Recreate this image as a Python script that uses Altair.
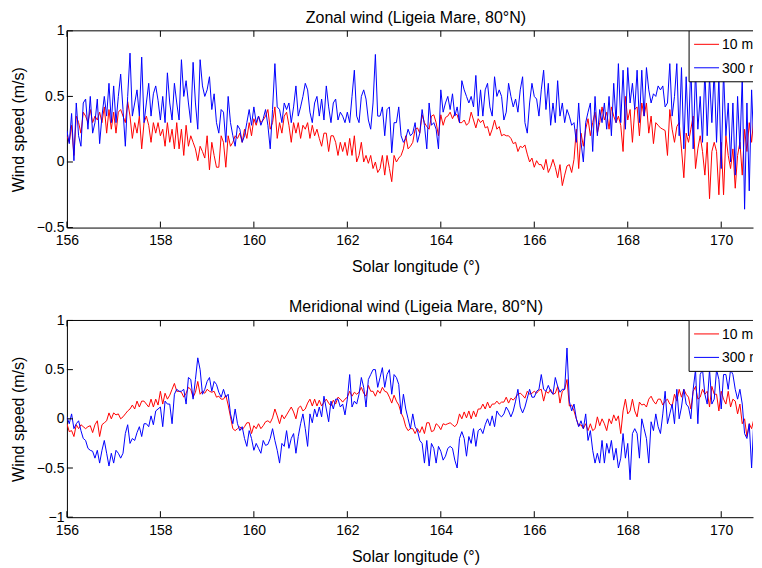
import altair as alt
import pandas as pd

# ---------------- data ----------------
X_START = 156.0      # first sample (solar longitude, deg)
X_STEP = 0.05        # sampling interval (deg)
X_MAX = 170.68       # visible right edge of the axes

x_ticks = [156, 158, 160, 162, 164, 166, 168, 170]
zonal_y_ticks = [-0.5, 0, 0.5, 1]
merid_y_ticks = [-1, -0.5, 0, 0.5, 1]
series_names = ["10 m", "300 m"]
series_colors = ["#ff0000", "#0000ff"]

zonal_300m = [
    0.24, 0.14, 0.37, 0.01, 0.45, 0.20, 0.12, 0.45, 0.48, 0.25,
    0.50, 0.22, 0.30, 0.48, 0.14, 0.35, 0.50, 0.35, 0.60, 0.30,
    0.58, 0.30, 0.50, 0.67, 0.40, 0.12, 0.50, 0.83, 0.35, 0.45,
    0.55, 0.35, 0.80, 0.30, 0.45, 0.60, 0.35, 0.52, 0.58, 0.47,
    0.32, 0.50, 0.30, 0.68, 0.45, 0.32, 0.60, 0.45, 0.32, 0.78,
    0.50, 0.62, 0.45, 0.30, 0.76, 0.45, 0.25, 0.78, 0.58, 0.50,
    0.55, 0.65, 0.40, 0.52, 0.30, 0.22, 0.40, 0.38, 0.15, 0.50,
    0.30, 0.20, 0.12, 0.28, 0.25, 0.15, 0.20, 0.30, 0.40, 0.28,
    0.42, 0.30, 0.35, 0.28, 0.33, 0.40, 0.28, 0.10, 0.40, 0.75,
    0.42, 0.40, 0.30, 0.45, 0.40, 0.45, 0.30, 0.42, 0.58, 0.35,
    0.42, 0.50, 0.60, 0.55, 0.38, 0.30, 0.45, 0.50, 0.35, 0.48,
    0.32, 0.58, 0.42, 0.30, 0.45, 0.48, 0.32, 0.38, 0.35, 0.30,
    0.38, 0.30, 0.50, 0.70, 0.35, 0.30, 0.50, 0.55, 0.48, 0.32,
    0.25, 0.45, 0.82, 0.35, 0.35, 0.42, 0.20, 0.40, 0.42, 0.07,
    0.30, 0.30, 0.42, 0.20, 0.15, 0.18, 0.25, 0.20, 0.22, 0.30,
    0.15, 0.22, 0.40, 0.28, 0.10, 0.45, 0.28, 0.30, 0.25, 0.10,
    0.55, 0.38, 0.45, 0.50, 0.40, 0.52, 0.35, 0.42, 0.30, 0.62,
    0.55, 0.50, 0.45, 0.50, 0.42, 0.66, 0.35, 0.55, 0.35, 0.55,
    0.60, 0.42, 0.35, 0.65, 0.50, 0.55, 0.50, 0.32, 0.38, 0.60,
    0.50, 0.42, 0.48, 0.38, 0.55, 0.65, 0.30, 0.22, 0.45, 0.60,
    0.50, 0.48, 0.35, 0.55, 0.70, 0.40, 0.60, 0.28, 0.45, 0.30,
    0.62, 0.35, 0.45, 0.30, 0.40, 0.35, 0.28, 0.30, 0.15, 0.45,
    0.15, 0.00, 0.30, 0.38, 0.45, 0.08, 0.50, 0.20, 0.40, 0.30,
    0.45, 0.25, 0.50, 0.20, 0.60, 0.30, 0.75, 0.30, 0.70, 0.25,
    0.72, 0.45, 0.60, 0.40, 0.70, 0.30, 0.70, 0.35, 0.72, 0.55,
    0.45, 0.52, 0.50, 0.58, 0.55, 0.58, 0.42, 0.45, 0.75, 0.35,
    0.50, 0.75, 0.20, 0.72, 0.10, 0.65, 0.20, 0.75, 0.10, 0.70,
    0.25, 0.50, 0.15, 0.70, 0.20, 0.65, 0.30, 0.70, 0.15, 0.65,
    -0.05, 0.70, 0.20, 0.45, 0.00, 0.45, -0.10, 0.50, 0.10, 0.65,
    -0.36, 0.45, -0.22, 0.55, 0.10, 0.65, -0.30, 0.60,
]

zonal_10m = [
    0.20, 0.15, 0.28, 0.05, 0.35, 0.30, 0.22, 0.38, 0.35, 0.30,
    0.40, 0.30, 0.35, 0.32, 0.38, 0.30, 0.42, 0.22, 0.40, 0.25,
    0.38, 0.22, 0.38, 0.40, 0.35, 0.30, 0.46, 0.35, 0.18, 0.30,
    0.22, 0.35, 0.10, 0.30, 0.35, 0.28, 0.15, 0.30, 0.22, 0.30,
    0.20, 0.25, 0.12, 0.30, 0.15, 0.25, 0.10, 0.30, 0.10, 0.25,
    0.05, 0.28, 0.12, 0.20, 0.15, 0.10, 0.01, 0.12, 0.08, 0.03,
    0.20, -0.06, 0.15, 0.05, -0.04, -0.04, 0.20, 0.15, -0.04, 0.20,
    0.12, 0.15, 0.20, 0.18, 0.22, 0.15, 0.25, 0.18, 0.30, 0.20,
    0.33, 0.28, 0.35, 0.30, 0.32, 0.35, 0.40, 0.25, 0.30, 0.42,
    0.18, 0.30, 0.22, 0.35, 0.38, 0.28, 0.15, 0.30, 0.22, 0.30,
    0.18, 0.28, 0.25, 0.30, 0.18, 0.28, 0.20, 0.25, 0.18, 0.12,
    0.22, 0.22, 0.08, 0.20, 0.20, 0.15, 0.05, 0.15, 0.08, 0.15,
    0.05, 0.18, 0.05, 0.20, 0.00, 0.05, 0.15, 0.00, 0.05, -0.01,
    0.05, -0.05, 0.00, -0.08, -0.05, 0.05, -0.10, 0.05, -0.05, -0.15,
    0.05, 0.00, 0.03, 0.05, 0.10, 0.20, 0.10, 0.12, 0.15, 0.25,
    0.26, 0.22, 0.36, 0.30, 0.27, 0.25, 0.35, 0.36, 0.30, 0.20,
    0.36, 0.28, 0.34, 0.35, 0.38, 0.33, 0.37, 0.36, 0.30, 0.30,
    0.32, 0.28, 0.30, 0.38, 0.32, 0.26, 0.33, 0.30, 0.32, 0.26,
    0.27, 0.20, 0.25, 0.32, 0.25, 0.27, 0.20, 0.21, 0.20, 0.20,
    0.18, 0.14, 0.15, 0.08, 0.12, 0.11, 0.13, 0.06, 0.00, 0.03,
    -0.04, 0.01, -0.02, -0.02, -0.06, 0.02, -0.08, -0.04, 0.02, -0.04,
    -0.12, -0.02, -0.18, -0.10, -0.03, -0.02, -0.08, 0.02, 0.25, -0.05,
    0.22, 0.12, 0.25, 0.33, 0.20, 0.30, 0.38, 0.22, 0.30, 0.42,
    0.32, 0.38, 0.25, 0.42, 0.35, 0.30, 0.35, 0.28, 0.08, 0.50,
    0.32, 0.40, 0.15, 0.40, 0.42, 0.20, 0.45, 0.35, 0.45, 0.22,
    0.35, 0.14, 0.30, 0.28, 0.26, 0.25, 0.24, 0.05, 0.40, 0.25,
    0.15, 0.27, 0.30, 0.10, -0.12, 0.22, 0.15, 0.25, 0.35, -0.05,
    0.10, 0.20, 0.08, -0.10, 0.15, -0.28, 0.08, 0.15, 0.08, -0.25,
    0.15, -0.25, 0.20, 0.05, -0.05, 0.10, -0.20, 0.05, 0.15, -0.10,
    0.25, 0.08, 0.30, 0.15, 0.35, 0.20, 0.30, 0.28,
]

merid_300m = [
    0.02, -0.05, 0.05, -0.10, -0.05, -0.02, -0.12, -0.20, -0.22, -0.30,
    -0.32, -0.33, -0.40, -0.32, -0.45, -0.32, -0.22, -0.35, -0.48, -0.35,
    -0.45, -0.32, -0.35, -0.40, -0.35, -0.15, -0.06, -0.25, -0.20, -0.22,
    -0.14, -0.08, -0.18, -0.05, -0.05, -0.08, 0.03, -0.06, 0.08, 0.10,
    0.12, -0.08, 0.18, 0.15, 0.15, -0.05, 0.25, 0.30, 0.28, 0.28,
    0.30, 0.15, 0.42, 0.40, 0.20, 0.40, 0.62, 0.50, 0.25, 0.30,
    0.38, 0.42, 0.28, 0.38, 0.35, 0.27, 0.22, 0.30, 0.22, 0.25,
    0.05, -0.05, 0.10, -0.05, -0.12, -0.08, -0.20, -0.28, -0.12, -0.20,
    -0.32, -0.25, -0.30, -0.35, -0.22, -0.27, -0.26, -0.20, -0.10, -0.22,
    -0.32, -0.45, -0.25, -0.28, -0.12, -0.30, -0.20, -0.15, -0.35, -0.18,
    -0.05, 0.05, -0.10, -0.28, 0.05, -0.04, 0.10, 0.02, 0.12, 0.02,
    0.23, 0.10, -0.03, 0.18, 0.10, 0.20, 0.20, 0.12, 0.15, 0.04,
    0.20, 0.45, 0.12, 0.18, 0.15, 0.25, 0.42, 0.32, 0.12, 0.40,
    0.45, 0.50, 0.50, 0.32, 0.42, 0.52, 0.32, 0.45, 0.50, 0.25,
    0.45, 0.42, 0.35, 0.05, 0.25, 0.10, 0.00, -0.10, 0.05, -0.08,
    -0.12, -0.22, -0.25, -0.45, -0.22, -0.48, -0.25, -0.30, -0.45, -0.28,
    -0.33, -0.42, -0.38, -0.30, -0.28, -0.30, -0.42, -0.50, -0.20, -0.13,
    -0.20, -0.38, -0.18, -0.25, -0.10, -0.28, -0.12, -0.10, -0.15, -0.06,
    0.00, -0.07, 0.03, -0.08, 0.08, 0.04, 0.02, 0.05, 0.12, 0.08,
    0.02, 0.08, 0.18, 0.30, 0.12, 0.06, 0.12, 0.21, 0.30, 0.22,
    0.22, 0.28, 0.30, 0.45, 0.30, 0.28, 0.34, 0.28, 0.25, 0.42,
    0.33, 0.27, 0.30, 0.30, 0.72, 0.18, 0.08, 0.15, 0.00, -0.08,
    -0.02, -0.10, 0.05, -0.22, -0.12, -0.32, -0.45, -0.35, -0.45, -0.22,
    -0.45, -0.25, -0.35, -0.22, -0.42, -0.30, -0.50, -0.40, -0.15, -0.40,
    -0.25, -0.62, -0.15, -0.10, -0.15, -0.40, 0.00, -0.10, -0.20, -0.45,
    -0.03, -0.12, 0.05, -0.08, -0.15, 0.05, 0.28, -0.05, 0.05, 0.15,
    -0.05, 0.30, 0.00, 0.12, 0.30, 0.15, 0.12, 0.00, 0.30, 0.50,
    -0.05, 0.45, 0.50, 0.25, 0.15, 0.50, 0.15, 0.20, 0.50, 0.40,
    0.10, 0.45, 0.45, 0.30, 0.50, 0.45, 0.30, 0.20, 0.30, 0.15,
    -0.15, -0.20, -0.05, -0.50, 0.00, -0.30, -0.15, -0.70,
]

merid_10m = [
    -0.05, -0.13, -0.12, -0.18, -0.06, -0.10, -0.06, -0.08, -0.10, -0.08,
    -0.07, -0.14, -0.06, -0.02, -0.18, -0.06, -0.04, -0.02, 0.06, 0.00,
    0.06, 0.04, 0.05, 0.00, 0.02, 0.05, 0.08, 0.10, 0.14, 0.10,
    0.18, 0.12, 0.18, 0.18, 0.15, 0.12, 0.20, 0.12, 0.20, 0.14,
    0.28, 0.15, 0.26, 0.20, 0.24, 0.30, 0.36, 0.28, 0.28, 0.27,
    0.22, 0.26, 0.32, 0.30, 0.22, 0.27, 0.38, 0.25, 0.28, 0.26,
    0.30, 0.28, 0.27, 0.28, 0.22, 0.23, 0.20, 0.20, 0.24, 0.14,
    0.02, -0.10, -0.12, -0.10, -0.08, -0.11, -0.08, -0.04, -0.04, -0.15,
    -0.07, -0.10, -0.05, -0.10, -0.07, -0.03, -0.02, -0.04, 0.01, 0.10,
    0.03, -0.05, 0.04, 0.00, 0.04, 0.08, 0.12, 0.07, 0.00, 0.11,
    0.13, 0.08, 0.10, 0.16, 0.20, 0.13, 0.20, 0.13, 0.19, 0.13,
    0.17, 0.20, 0.16, 0.13, 0.19, 0.15, 0.22, 0.20, 0.17, 0.20,
    0.22, 0.28, 0.23, 0.27, 0.25, 0.27, 0.32, 0.26, 0.23, 0.34,
    0.28, 0.28, 0.23, 0.29, 0.26, 0.32, 0.28, 0.27, 0.22, 0.16,
    0.24, 0.18, 0.14, 0.06, 0.01, -0.08, -0.12, -0.10, -0.10, -0.15,
    -0.10, -0.14, -0.08, -0.15, -0.04, -0.04, -0.13, -0.12, -0.05, -0.07,
    -0.11, -0.05, -0.06, -0.05, -0.04, -0.06, -0.08, -0.05, 0.05, 0.00,
    0.07, 0.01, 0.08, 0.00, 0.08, 0.02, 0.10, 0.10, 0.15, 0.10,
    0.17, 0.11, 0.15, 0.15, 0.18, 0.15, 0.17, 0.17, 0.22, 0.16,
    0.21, 0.19, 0.22, 0.25, 0.26, 0.24, 0.21, 0.28, 0.25, 0.26,
    0.28, 0.26, 0.29, 0.30, 0.18, 0.28, 0.26, 0.30, 0.25, 0.26,
    0.33, 0.16, 0.28, 0.30, 0.40, 0.13, 0.14, 0.08, 0.00, -0.07,
    -0.06, -0.10, -0.05, -0.12, -0.05, -0.12, -0.10, 0.02, -0.07, 0.00,
    -0.05, -0.12, 0.00, -0.05, 0.04, -0.02, 0.03, -0.15, 0.08, 0.20,
    0.05, 0.08, 0.20, 0.08, 0.02, 0.17, 0.14, 0.15, 0.12, 0.20,
    0.23, 0.18, 0.15, 0.20, 0.20, 0.14, 0.18, 0.20, 0.15, 0.13,
    0.25, 0.18, 0.30, 0.22, 0.30, 0.25, 0.22, 0.10, 0.28, 0.33,
    0.20, 0.22, 0.30, 0.25, 0.28, 0.12, 0.33, 0.25, 0.25, 0.08,
    0.28, 0.20, 0.15, 0.28, 0.12, 0.20, 0.18, 0.05, 0.15, -0.05,
    0.00, -0.18, -0.05, -0.10, 0.00, -0.15, -0.15, -0.18,
]

# ---------------- layout / style ----------------
W, H = 687, 197
FONT = "Liberation Sans"


def long_table(v10, v300):
    rows = []
    for name, vals in ((series_names[0], v10), (series_names[1], v300)):
        for i, v in enumerate(vals):
            rows.append({"x": round(X_START + X_STEP * i, 3), "v": v, "series": name})
    return pd.DataFrame(rows)


def panel(title, v10, v300, ydomain, yticks):
    df = long_table(v10, v300)
    x_enc = alt.X(
        "x:Q",
        scale=alt.Scale(domain=[156, X_MAX], nice=False, zero=False),
        axis=alt.Axis(values=x_ticks, format="d", title="Solar longitude (°)",
                      ticks=False, tickSize=0, grid=False, labelPadding=6,
                      titlePadding=11, titleX=349, labelFlush=False,
                      labelOverlap=False, domainColor="black"),
    )
    y_enc = alt.Y(
        "v:Q",
        scale=alt.Scale(domain=ydomain, nice=False, zero=False),
        axis=alt.Axis(values=yticks, format="~g", title="Wind speed (m/s)",
                      ticks=False, tickSize=0, grid=False, labelPadding=3,
                      titlePadding=10, labelFlush=False, labelOverlap=False,
                      domainColor="black"),
    )
    lines = alt.Chart(df).mark_line(strokeWidth=1, clip=True).encode(
        x=x_enc, y=y_enc,
        color=alt.Color("series:N", scale=alt.Scale(domain=series_names, range=series_colors),
                        legend=None),
    )
    one = pd.DataFrame({"a": [0]})
    xt = pd.DataFrame({"x": x_ticks})
    yt = pd.DataFrame({"v": yticks})
    top_border = alt.Chart(one).mark_rule(color="black", strokeWidth=1).encode(
        x=alt.value(0), x2=alt.value(W), y=alt.value(0))
    bottom_ticks = alt.Chart(xt).mark_rule(color="black", strokeWidth=1).encode(
        x=x_enc, y=alt.value(H), y2=alt.value(H - 6))
    top_ticks = alt.Chart(xt).mark_rule(color="black", strokeWidth=1).encode(
        x=x_enc, y=alt.value(0), y2=alt.value(6))
    left_ticks = alt.Chart(yt).mark_rule(color="black", strokeWidth=1).encode(
        y=y_enc, x=alt.value(0), x2=alt.value(6))

    # legend box (cut off at the right edge, as in the reference)
    box = alt.Chart(one).mark_rect(fill="white", stroke="black", strokeWidth=1, clip=True).encode(
        x=alt.value(623), x2=alt.value(W + 20), y=alt.value(0), y2=alt.value(51))
    leg = []
    for k, (name, col) in enumerate(zip(series_names, series_colors)):
        yy = 13.5 + 23.5 * k
        leg.append(alt.Chart(one).mark_rule(color=col, strokeWidth=1, clip=True).encode(
            x=alt.value(628), x2=alt.value(653), y=alt.value(yy)))
        leg.append(alt.Chart(one).mark_text(align="left", baseline="middle", font=FONT,
                                             fontSize=14, color="black", clip=True).encode(
            x=alt.value(656), y=alt.value(yy + 1), text=alt.value(name)))

    return alt.layer(lines, top_border, bottom_ticks, top_ticks, left_ticks, box, *leg).properties(
        width=W, height=H,
        title=alt.TitleParams(text=title, font=FONT, fontSize=16, fontWeight="normal",
                              color="black", offset=-2, dx=6, anchor="middle"),
    )


assert len(zonal_10m) == len(zonal_300m) == len(merid_10m) == len(merid_300m)

top = panel("Zonal wind (Ligeia Mare, 80°N)", zonal_10m, zonal_300m, [-0.5, 1], zonal_y_ticks)
bottom = panel("Meridional wind (Ligeia Mare, 80°N)", merid_10m, merid_300m, [-1, 1], merid_y_ticks)

chart = alt.vconcat(top, bottom, spacing=25).properties(
    padding={"left": 2, "top": 1.5, "right": 0, "bottom": 0}
).configure_view(stroke=None).configure_axis(
    labelFont=FONT, labelFontSize=14, labelColor="black",
    titleFont=FONT, titleFontSize=16, titleFontWeight="normal", titleColor="black",
    domainColor="black", domainWidth=1,
)

chart.save("out.html", embed_options={"renderer": "svg", "actions": False})
